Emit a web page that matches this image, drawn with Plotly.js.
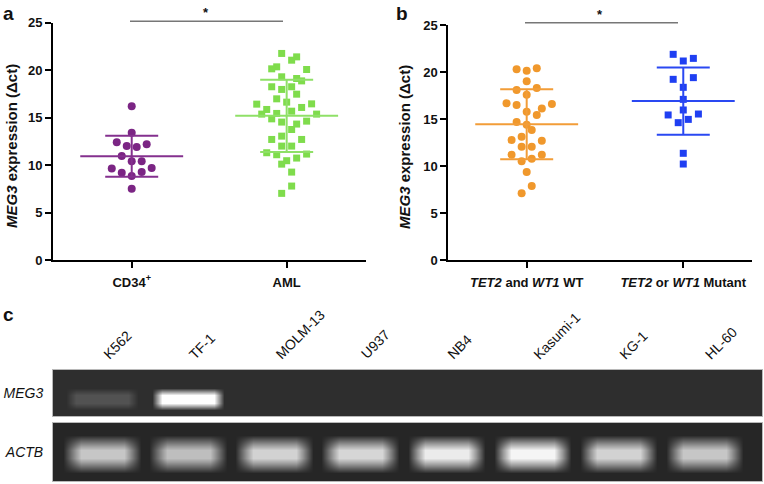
<!DOCTYPE html>
<html>
<head>
<meta charset="utf-8">
<script src="https://cdn.plot.ly/plotly-3.0.1.min.js"></script>
<style>html,body{margin:0;padding:0;background:#fff}#chart{width:764px;height:484px}</style>
</head>
<body>
<div id="chart"></div>
<script>
// ---------------- data ----------------
// panel a
const groupsA = ['CD34<sup>+</sup>', 'AML'];
const cd34Vals = [16.2, 13.4, 12.4, 12.0, 11.9, 12.2, 10.95, 10.4, 10.4, 9.65, 9.2, 8.85, 9.26, 9.7, 7.5];
const cd34Col  = [0, 0, -3, -1, 1, 3, -2, 0, 2, -4, -2, 0, 2, 4, 0];
const amlVals = [21.76, 21.4, 21.05, 20.35, 20.14, 20.07, 19.3, 19.12, 18.87, 18.25, 17.97, 18.25, 17.47, 16.98,
                 16.63, 16.42, 16.45, 15.86, 16.07, 15.68, 15.37, 15.44, 15.37, 14.87, 14.53, 14.63, 14.32, 13.75,
                 12.7, 13.05, 12.7, 12.0, 12.0, 11.3, 11.09, 11.16, 10.74, 10.1, 10.46, 9.26, 7.79, 7.02];
const amlCol  = [-1, 2, 1, -2, -3, 4, -1, 2, 3, -3, -1, 1, 2, -2,
                 0, -6, 5, -4, 3, 1, -5, -2, 6, -3, -1, 4, 2, 1,
                 -3, -1, 3, -1, 1, -4, -2, 4, 2, -1, 0, 1, 1, -1];
// panel b
const groupsB = ['<i>TET2</i> and <i>WT1</i> WT', '<i>TET2</i> or <i>WT1</i> Mutant'];
const wtVals = [20.28, 20.14, 20.39, 19.01, 18.09, 18.3, 17.59, 16.67, 16.49, 16.6, 16.13, 15.78, 15.43, 14.68,
                14.4, 13.83, 13.12, 12.77, 12.69, 12.06, 12.06, 11.2, 11.2, 10.5, 10.78, 9.36, 7.87, 7.09];
const wtCol  = [-2, 0, 2, 0, -2, 2, 0, -4, -2, 5, 3, 0, 2, -2, 0, 1, -1, -3, 3, -1, 1, -3, 3, -1, 1, 0, 1, -1];
const mutVals = [21.88, 21.17, 21.45, 19.22, 19.4, 18.37, 17.09, 15.96, 15.43, 15.53, 14.61, 14.96, 11.35, 10.21];
const mutCol  = [-2, 0, 2, -2, 2, 0, 0, 0, -3, 3, -1, 1, 0, 0];
const yTicks = [0, 5, 10, 15, 20, 25];
// panel c (gel)
const lanes = ['K562', 'TF-1', 'MOLM-13', 'U937', 'NB4', 'Kasumi-1', 'KG-1', 'HL-60'];
const genes = ['MEG3', 'ACTB'];
const meg3Band = [0.17, 1.0, 0, 0, 0, 0, 0, 0];
const actbBand = [0.72, 0.68, 0.78, 0.8, 0.9, 0.95, 0.78, 0.72];

// ---------------- helpers ----------------
const W = 764, H = 484;
const px = v => v / W, py = v => 1 - v / H;
const FONT = 'Arial, "Liberation Sans", sans-serif';
const SLOT = 0.0322;
function mean(a){ return a.reduce((s,v)=>s+v,0)/a.length; }
function sd(a){ const m = mean(a); return Math.sqrt(a.reduce((s,v)=>s+(v-m)*(v-m),0)/(a.length-1)); }

function swarm(vals, cols, cat, color, symbol, size, xa, ya){
  return {type:'scatter', mode:'markers', xaxis:xa, yaxis:ya,
    x: cols.map(c => cat + c*SLOT), y: vals, cliponaxis:false, hoverinfo:'skip',
    marker:{color:color, symbol:symbol, size:size, line:{width:0}}};
}
function meanSd(vals, cat, color, xa, ya){
  return {type:'scatter', mode:'markers', xaxis:xa, yaxis:ya, x:[cat], y:[mean(vals)], cliponaxis:false, hoverinfo:'skip',
    marker:{symbol:'line-ew', size:73.5, color:color, line:{width:2, color:color}},
    error_y:{type:'data', array:[sd(vals)], visible:true, width:26.5, thickness:2, color:color}};
}
function gelTrace(band, center, half, ramp, hx, rx, bg, xa, ya){
  const xs = [-0.8], lp = [0];
  band.forEach((v,i)=>{ xs.push(i-hx-rx, i-hx, i+hx, i+hx+rx); lp.push(0, v, v, 0); });
  xs.push(7.9); lp.push(0);
  const ys = [-0.1, center-half-ramp, center-half, center+half, center+half+ramp, 1.1];
  const rp = [0, 0, 1, 1, 0, 0];
  const z = rp.map(r => lp.map(l => r*l));
  return {type:'heatmap', xaxis:xa, yaxis:ya, x:xs, y:ys, z:z, zsmooth:'best', zmin:0, zmax:1,
    showscale:false, hoverinfo:'skip',
    colorscale:[[0,bg],[0.5,'#999999'],[1,'#ffffff']]};
}

const purple = '#7b2584', green = '#7fdc4c', orange = '#f0982c', blue = '#1f3ff2';

const traces = [
  gelTrace(meg3Band, 0.37, 0.08, 0.15, 0.3, 0.12, '#2e2e2e', 'x3', 'y3'),
  gelTrace(actbBand, 0.47, 0.07, 0.26, 0.25, 0.2, '#262626', 'x4', 'y4'),
  swarm(cd34Vals, cd34Col, 0, purple, 'circle', 8, 'x', 'y'),
  swarm(amlVals, amlCol, 1, green, 'square', 7, 'x', 'y'),
  meanSd(cd34Vals, 0, '#84308e', 'x', 'y'),
  meanSd(amlVals, 1, '#8fe067', 'x', 'y'),
  swarm(wtVals, wtCol, 0, orange, 'circle', 8, 'x2', 'y2'),
  swarm(mutVals, mutCol, 1, blue, 'square', 7, 'x2', 'y2'),
  meanSd(wtVals, 0, '#f29d38', 'x2', 'y2'),
  meanSd(mutVals, 1, '#2a48f2', 'x2', 'y2')
];

const xBase = {showline:true, linewidth:2, linecolor:'#000', ticks:'outside', ticklen:6, tickwidth:2, tickcolor:'#000',
  showgrid:false, zeroline:false, tickfont:{family:FONT, size:13, weight:'bold', color:'#111'}};
const yBase = Object.assign({}, xBase, {tickvals:yTicks, ticktext:yTicks.map(String)});
const gelX = {showgrid:false, zeroline:false, showline:true, mirror:true, linecolor:'#b8b8b8', linewidth:1, ticks:'', showticklabels:false};
const gelY = {showgrid:false, zeroline:false, showline:true, mirror:true, linecolor:'#b8b8b8', linewidth:1, ticks:'',
  range:[0,1], tickvals:[0.5], ticklabelstandoff:6, tickfont:{family:FONT, size:14, color:'#111'}};

const laneAnn = lanes.map((t,i)=>({text:t, xref:'x3', yref:'paper', x:i, xshift:-5, y:py(365), xanchor:'left', yanchor:'bottom',
  textangle:-45, showarrow:false, font:{family:FONT, size:14, color:'#111'}}));

const layout = {
  width:W, height:H, margin:{l:0,r:0,t:0,b:0}, showlegend:false,
  paper_bgcolor:'#fff', plot_bgcolor:'rgba(0,0,0,0)', font:{family:FONT, color:'#111'},
  xaxis: Object.assign({}, xBase, {domain:[px(53), px(366)], range:[-0.508, 1.512], tickvals:[0,1], ticktext:groupsA, anchor:'y', ticklabelstandoff:3}),
  yaxis: Object.assign({}, yBase, {domain:[py(260), py(22.7)], range:[0,25], anchor:'x'}),
  xaxis2: Object.assign({}, xBase, {domain:[px(448.3), px(751.7)], range:[-0.5006, 1.437], tickvals:[0,1], ticktext:groupsB, anchor:'y2', ticklabelstandoff:3}),
  yaxis2: Object.assign({}, yBase, {domain:[py(260), py(25)], range:[0,25], anchor:'x2'}),
  xaxis3: Object.assign({}, gelX, {domain:[px(53), px(762)], range:[-0.57, 7.67], anchor:'y3'}),
  yaxis3: Object.assign({}, gelY, {domain:[py(416), py(370)], anchor:'x3', ticktext:['<i>'+genes[0]+'</i>']}),
  xaxis4: Object.assign({}, gelX, {domain:[px(53), px(762)], range:[-0.57, 7.67], anchor:'y4', matches:'x3'}),
  yaxis4: Object.assign({}, gelY, {domain:[py(481), py(423)], anchor:'x4', ticktext:['<i>'+genes[1]+'</i>']}),
  shapes:[
    {type:'line', xref:'paper', yref:'paper', x0:px(130), x1:px(283), y0:py(21.3), y1:py(21.3), line:{color:'#777', width:1.5}},
    {type:'line', xref:'paper', yref:'paper', x0:px(525), x1:px(678), y0:py(22.7), y1:py(22.7), line:{color:'#777', width:1.5}}
  ],
  annotations: laneAnn.concat([
    {text:'<b>a</b>', xref:'paper', yref:'paper', x:px(1), y:py(1), xanchor:'left', yanchor:'top', showarrow:false, font:{size:19, family:FONT}},
    {text:'<b>b</b>', xref:'paper', yref:'paper', x:px(394), y:py(1), xanchor:'left', yanchor:'top', showarrow:false, font:{size:19, family:FONT}},
    {text:'<b>c</b>', xref:'paper', yref:'paper', x:px(1), y:py(302), xanchor:'left', yanchor:'top', showarrow:false, font:{size:19, family:FONT}},
    {text:'<b>*</b>', xref:'paper', yref:'paper', x:px(206), y:py(13), xanchor:'center', yanchor:'middle', showarrow:false, font:{size:13, family:FONT}},
    {text:'<b>*</b>', xref:'paper', yref:'paper', x:px(600), y:py(14), xanchor:'center', yanchor:'middle', showarrow:false, font:{size:13, family:FONT}},
    {text:'<b><i>MEG3</i> expression (Δct)</b>', xref:'paper', yref:'paper', x:px(11), y:py(146), textangle:-90,
     xanchor:'center', yanchor:'middle', showarrow:false, font:{size:15, family:FONT}},
    {text:'<b><i>MEG3</i> expression (Δct)</b>', xref:'paper', yref:'paper', x:px(405), y:py(147), textangle:-90,
     xanchor:'center', yanchor:'middle', showarrow:false, font:{size:15, family:FONT}}
  ])
};

Plotly.newPlot('chart', traces, layout, {staticPlot:true, displayModeBar:false});
</script>
</body>
</html>
